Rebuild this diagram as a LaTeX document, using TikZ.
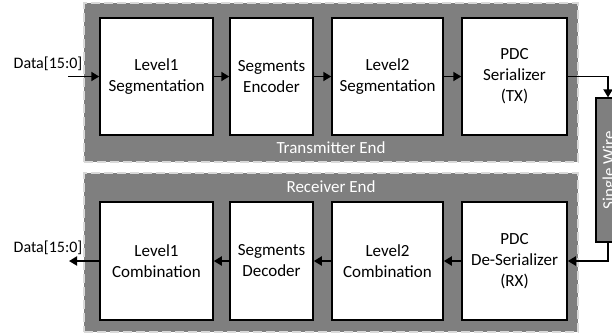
\documentclass[tikz,border=0pt]{standalone}
\usepackage{fontspec}
\usetikzlibrary{arrows.meta}
\setmainfont{Carlito}
\definecolor{panelgray}{HTML}{7F7F7F}
\definecolor{dashgray}{HTML}{D9D9D9}
\begin{document}
\begin{tikzpicture}
				[x=1pt,y=-1pt,
				panel/.style={rectangle, fill=panelgray, draw=dashgray,
				dash pattern=on 9pt off 4pt, line width=1.5pt},
				block/.style={rectangle, draw=black, fill=white, line width=1.5pt,
				align=center, font=\fontsize{17}{21}\selectfont},
				link/.style={-{Triangle[length=8pt,width=9pt]}, line width=1.8pt}]
				\clip (0,0) rectangle (612,335);
				% panels
				\node[panel, minimum width=494pt, minimum height=159pt] (tx) at (331,82.5) {};
				\node[panel, minimum width=494pt, minimum height=159pt] (rx) at (331,252.5) {};
				\node[text=white, font=\fontsize{17}{21}\selectfont] (txlbl) at (331,148) {Transmitter End};
				\node[text=white, font=\fontsize{17}{21}\selectfont] (rxlbl) at (331,187) {Receiver End};

				% transmitter blocks
				\node[block, minimum width=113pt, minimum height=117pt] (seg1) at (156.5,76.5) {Level1\\Segmentation};
				\node[block, minimum width=83pt, minimum height=117pt] (enc) at (271.5,76.5) {Segments\\Encoder};
				\node[block, minimum width=111pt, minimum height=117pt] (seg2) at (387.5,76.5) {Level2\\Segmentation};
				\node[block, minimum width=105pt, minimum height=117pt] (ser) at (514.5,76.5) {PDC\\Serializer\\(TX)};

				% receiver blocks
				\node[block, minimum width=113pt, minimum height=118pt] (com1) at (156.5,261) {Level1\\Combination};
				\node[block, minimum width=83pt, minimum height=118pt] (dec) at (271.5,261) {Segments\\Decoder};
				\node[block, minimum width=111pt, minimum height=118pt] (com2) at (387.5,261) {Level2\\Combination};
				\node[block, minimum width=105pt, minimum height=118pt] (deser) at (514.5,261) {PDC\\De-Serializer\\(RX)};

				% single wire
				\node[rectangle, fill=panelgray, draw=black, line width=1.2pt,
				minimum width=24pt, minimum height=144pt] (wire) at (608,170) {};
				\node[rotate=90, text=white, font=\fontsize{17}{21}\selectfont] (wirelbl) at (610,170) {Single Wire};

				% data in / out
				\node[font=\fontsize{16}{19}\selectfont] (din) at (48,64) {Data[15:0]};
				\node[font=\fontsize{16}{19}\selectfont] (dout) at (48,248) {Data[15:0]};
				\coordinate (inp) at (68,76.5);
				\coordinate (outp) at (69,261);

				\foreach \from/\to in {inp/seg1, seg1/enc, enc/seg2, seg2/ser,
				deser/com2, com2/dec, dec/com1, com1/outp}
				\draw[link] (\from) -- (\to);
				\draw[link] (ser.east) -| (wire.north);
				\draw[link] (wire.south) |- (deser.east);
			\end{tikzpicture}
\end{document}
